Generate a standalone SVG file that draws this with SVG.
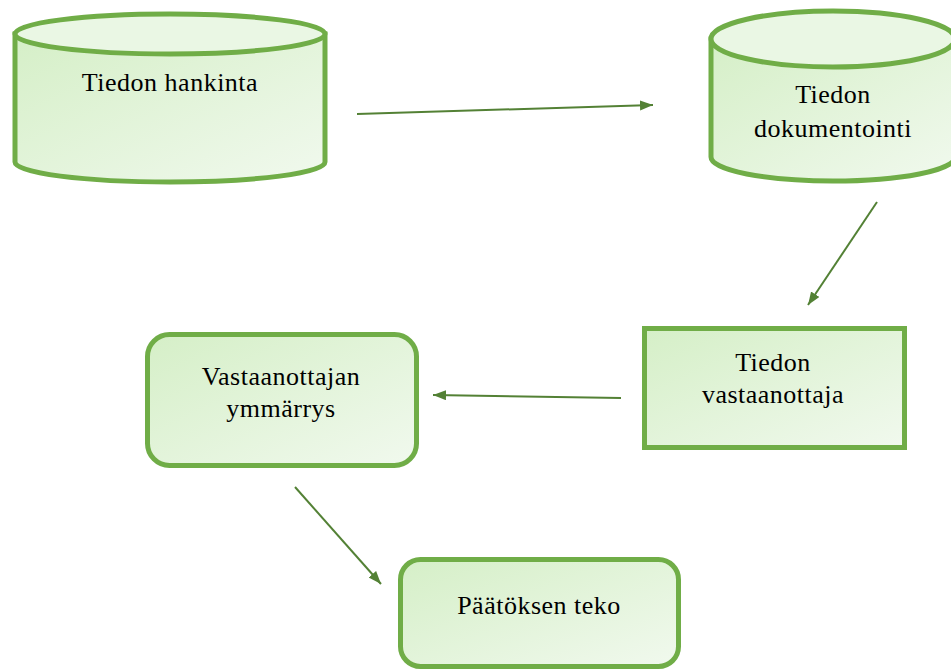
<svg xmlns="http://www.w3.org/2000/svg" width="951" height="670" viewBox="0 0 951 670">
<defs>
<linearGradient id="g" x1="0" y1="0" x2="1" y2="1">
<stop offset="0" stop-color="#d5efc7"/>
<stop offset="1" stop-color="#f1f9ee"/>
</linearGradient>
<marker id="ah" markerUnits="userSpaceOnUse" markerWidth="14" markerHeight="12" refX="13" refY="5" orient="auto">
<path d="M0,0 L13,5 L0,10 z" fill="#538135"/>
</marker>
</defs>
<style>
.shape{fill:url(#g);stroke:#70ad47;stroke-width:5}
.top{fill:#eaf7e4;stroke:#70ad47;stroke-width:5}
.lbl{font-family:"Liberation Serif","Times New Roman",serif;font-size:26px;letter-spacing:0.5px;fill:#000;text-anchor:middle}
.conn{stroke:#538135;stroke-width:2;fill:none;marker-end:url(#ah)}
</style>
<rect width="951" height="670" fill="#fff"/>
<g id="node-hankinta">
<path class="shape" d="M15,34 L15,162 A155,20 0 0 0 325,162 L325,34 Z"/>
<ellipse class="top" cx="170" cy="34" rx="155" ry="20"/>
<text class="lbl" x="170" y="91">Tiedon hankinta</text>
</g>
<g id="node-dokumentointi">
<path class="shape" d="M711,39 L711,157 A122,24 0 0 0 955,157 L955,39 Z"/>
<ellipse class="top" cx="833" cy="39" rx="122" ry="28"/>
<text class="lbl" x="833" y="103">Tiedon</text>
<text class="lbl" x="833" y="137">dokumentointi</text>
</g>
<g id="node-vastaanottaja">
<rect class="shape" x="644.5" y="328.5" width="260" height="119"/>
<text class="lbl" x="773" y="371">Tiedon</text>
<text class="lbl" x="773" y="403">vastaanottaja</text>
</g>
<g id="node-ymmarrys">
<rect class="shape" x="147.5" y="334.5" width="269" height="131" rx="22"/>
<text class="lbl" x="281" y="385">Vastaanottajan</text>
<text class="lbl" x="281" y="417">ymmärrys</text>
</g>
<g id="node-paatos">
<rect class="shape" x="400.5" y="559.5" width="278" height="107" rx="20"/>
<text class="lbl" x="539" y="614">Päätöksen teko</text>
</g>
<g id="connectors">
<line class="conn" x1="357" y1="114" x2="653" y2="105"/>
<line class="conn" x1="877" y1="202" x2="808" y2="305"/>
<line class="conn" x1="621" y1="398" x2="433" y2="395"/>
<line class="conn" x1="295" y1="487" x2="381" y2="584"/>
</g>
</svg>
